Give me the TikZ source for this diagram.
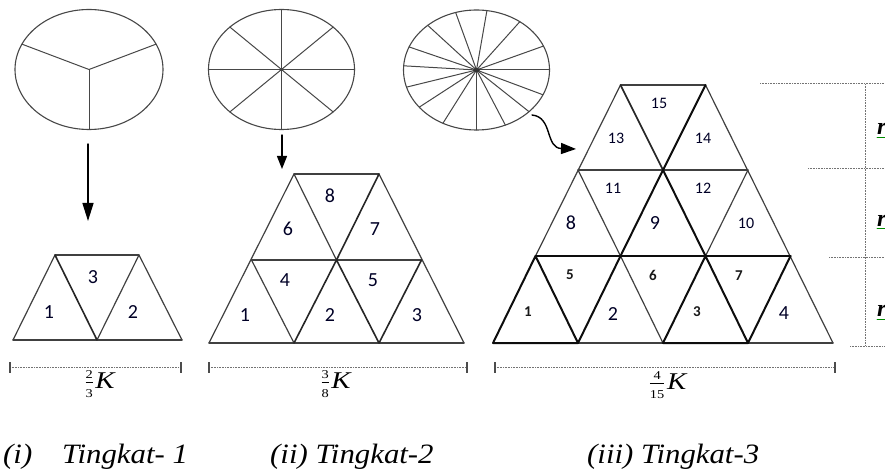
\documentclass[tikz,border=0pt]{standalone}
\usepackage{fontspec}
\setmainfont{Liberation Serif}
\newfontfamily\numfont{Carlito}
\usetikzlibrary{arrows.meta,shapes.geometric}
\begin{document}
\begin{tikzpicture}[x=1pt,y=-1pt,line cap=round,line join=round,
  pie/.style={draw=black!72,line width=1.1pt,ellipse,inner sep=0pt,outer sep=0pt},
  spoke/.style={draw=black!72,line width=1pt},
  tedge/.style={draw=black!75,line width=1.2pt},
  tbold/.style={draw=black!95,line width=2pt},
  tmed/.style={draw=black!85,line width=1.6pt},
  numlab/.style={font=\numfont\fontsize{20}{20}\selectfont,text=black!85!blue,inner sep=0pt},
  snumlab/.style={font=\numfont\fontsize{16}{16}\selectfont,text=black!85!blue,inner sep=0pt},
  bnumlab/.style={font=\numfont\bfseries\fontsize{15}{15}\selectfont,text=black!90,inner sep=0pt},
  dimline/.style={draw=black!55,line width=1pt,dash pattern=on 1pt off 0.6pt,line cap=butt},
  dimtick/.style={draw=black!70,line width=1.1pt,line cap=butt},
  captext/.style={font=\itshape\fontsize{28}{28}\selectfont,anchor=base west,inner sep=0pt},
  fraclab/.style={font=\fontsize{24}{24}\selectfont,inner sep=0pt},
  rlab/.style={font=\bfseries\itshape\fontsize{24}{24}\selectfont,anchor=base west,inner sep=0pt},
  arr/.style={draw=black,line width=1.4pt}]
\useasboundingbox (0,0) rectangle (885,470);

% ---------------- Figure 1 ----------------
\node[pie,minimum width=148pt,minimum height=120pt] (e1) at (89,69.5) {};
\foreach \t in {25,155,270}
  \draw[spoke] (e1.center) -- ++({74*cos(\t)},{-60*sin(\t)});
\coordinate (a1s) at (88,144);
\coordinate (a1e) at (88,221);
\draw[arr,-{Triangle[length=18pt,width=11pt]}] (a1s) -- (a1e);

\coordinate (p1a) at (13,340);
\coordinate (p1b) at (97,340);
\coordinate (p1c) at (182,340);
\coordinate (p1d) at (55,255);
\coordinate (p1e) at (139,255);
\draw[tedge] (p1a) -- (p1c);
\draw[tedge] (p1d) -- (p1e);
\draw[tedge] (p1a) -- (p1d);
\draw[tedge] (p1b) -- (p1e) -- (p1c);
\draw[tmed] (p1d) -- (p1b);
\node[numlab] (n1a) at (49,312) {1};
\node[numlab] (n1c) at (93,277) {3};
\node[numlab] (n1b) at (133,312) {2};

% ---------------- Figure 2 ----------------
\node[pie,minimum width=146pt,minimum height=120pt] (e2) at (281.5,69.5) {};
\foreach \t in {0,45,...,315}
  \draw[spoke] (e2.center) -- ++({73*cos(\t)},{-60*sin(\t)});
\coordinate (a2s) at (282,135);
\coordinate (a2e) at (282,169);
\draw[arr,-{Triangle[length=13pt,width=10pt]}] (a2s) -- (a2e);

\foreach \k in {0,...,3} \coordinate (b\k) at ({209+85*\k},343);
\foreach \k in {0,...,2} \coordinate (m\k) at ({251.5+85*\k},260);
\foreach \k in {0,1} \coordinate (t\k) at ({294+85*\k},174);
\draw[tedge] (b0) -- (b3);
\draw[tedge] (m0) -- (m2);
\draw[tedge] (t0) -- (t1);
\draw[tedge] (b0) -- (t0);
\draw[tedge] (b3) -- (t1);
\draw[tedge] (b1) -- (m0);
\draw[tedge] (m1) -- (t0);
\draw[tmed] (b1) -- (m1) -- (b2) -- (m2);
\draw[tmed] (m1) -- (t1);
\node[numlab] (n2a) at (245,315) {1};
\node[numlab] (n2d) at (285,280) {4};
\node[numlab] (n2b) at (330,315) {2};
\node[numlab] (n2e) at (373,280) {5};
\node[numlab] (n2c) at (417,315) {3};
\node[numlab] (n2f) at (288,229) {6};
\node[numlab] (n2g) at (375,229) {7};
\node[numlab] (n2h) at (330,196) {8};

% ---------------- Figure 3 ----------------
\node[pie,minimum width=146pt,minimum height=120pt] (e3) at (476.5,70) {};
\foreach \t in {106.6,81.8,53.6,23.5,0,-24.4,-44,-66.7,-90,-117.4,-141.7,-163.4,176,157.4,131.9}
  \draw[spoke] (e3.center) -- ++({73*cos(\t)},{-60*sin(\t)});
\fill[black!80] (e3.center) ellipse [x radius=3.5, y radius=2];
\coordinate (a3s) at (532,115);
\coordinate (a3e) at (576,149);
\draw[arr,-{Triangle[length=15pt,width=11pt]}] (a3s) .. controls (553,117) and (545,148) .. (a3e);

\foreach \k in {0,...,4} \coordinate (B\k) at ({493+85*\k},343);
\foreach \k in {0,...,3} \coordinate (R\k) at ({535.5+85*\k},256);
\foreach \k in {0,...,2} \coordinate (S\k) at ({578+85*\k},170);
\foreach \k in {0,1} \coordinate (T\k) at ({620.5+85*\k},85);
\draw[tedge] (B1) -- (B2);
\draw[tedge] (B3) -- (B4);
\draw[tedge] (S0) -- (S2);
\draw[tedge] (T0) -- (T1);
\draw[tedge] (R0) -- (T0);
\draw[tedge] (B4) -- (T1);
\draw[tedge] (B2) -- (R1);
\draw[tedge] (R1) -- (S0);
\draw[tedge] (R2) -- (S2);
\draw[tmed] (S1) -- (T0);
\draw[tbold] (R0) -- (R3);
\draw[tbold] (B0) -- (B1) -- (R0) -- cycle;
\draw[tbold] (B2) -- (B3) -- (R2) -- cycle;
\draw[tbold] (B1) -- (R1);
\draw[tbold] (B3) -- (R3);
\draw[tbold] (R1) -- (S1) -- (R2);
\draw[tbold] (S1) -- (T1);
\node[bnumlab] (n3a) at (528,312) {1};
\node[bnumlab] (n3e) at (570,275) {5};
\node[numlab]  (n3b) at (613,314) {2};
\node[bnumlab] (n3f) at (653,275) {6};
\node[bnumlab] (n3c) at (697,312) {3};
\node[bnumlab] (n3g) at (739,276) {7};
\node[numlab]  (n3d) at (784,313) {4};
\node[numlab]  (n3h) at (571,223) {8};
\node[snumlab] (n3k) at (613,188) {11};
\node[numlab]  (n3i) at (655,223) {9};
\node[snumlab] (n3l) at (703,188) {12};
\node[snumlab] (n3j) at (746,223) {10};
\node[snumlab] (n3m) at (616,138) {13};
\node[snumlab] (n3o) at (659,103) {15};
\node[snumlab] (n3n) at (703,138) {14};

% ---------------- right-hand dimension ----------------
\coordinate (v0) at (865,84);
\coordinate (v3) at (865,346);
\draw[dimline] (v0) -- (v3);
\coordinate (h0a) at (760,84);   \coordinate (h0b) at (885,84);
\coordinate (h1a) at (808,169);  \coordinate (h1b) at (885,169);
\coordinate (h2a) at (829,257);  \coordinate (h2b) at (885,257);
\coordinate (h3a) at (850,346);  \coordinate (h3b) at (885,346);
\draw[dimline] (h0a) -- (h0b);
\draw[dimline] (h1a) -- (h1b);
\draw[dimline] (h2a) -- (h2b);
\draw[dimline] (h3a) -- (h3b);
\foreach \y/\n in {135/ra,226/rb,316/rc}{
  \node[rlab] (\n) at (877,\y) {r};
  \draw[green!55!black,line width=1pt] (877,\y+3) -- (886,\y+3);
}

% ---------------- bottom dimensions ----------------
\foreach \xa/\xb/\n in {10/181/d1,209/467/d2,495/835/d3}{
  \coordinate (\n a) at (\xa,367);
  \coordinate (\n b) at (\xb,367);
  \draw[dimline] (\n a) -- (\n b);
  \draw[dimtick] (\xa,362) -- (\xa,373);
  \draw[dimtick] (\xb,362) -- (\xb,373);
}
\node[fraclab] (f1) at (100,384) {\scalebox{1.2}[1]{$\frac{\mbox{\fontsize{12}{12}\selectfont 2}}{\mbox{\fontsize{12}{12}\selectfont 3}}$\kern1pt\textit{K}}};
\node[fraclab] (f2) at (336,384) {\scalebox{1.2}[1]{$\frac{\mbox{\fontsize{12}{12}\selectfont 3}}{\mbox{\fontsize{12}{12}\selectfont 8}}$\kern1pt\textit{K}}};
\node[fraclab] (f3) at (668,385) {\scalebox{1.2}[1]{$\frac{\mbox{\fontsize{12}{12}\selectfont 4}}{\mbox{\fontsize{12}{12}\selectfont 15}}$\kern1pt\textit{K}}};

% ---------------- captions ----------------
\node[captext] (c1) at (3,463) {\scalebox{1.1}[1]{(i)}};
\node[captext] (c1b) at (62,463) {\scalebox{1.1}[1]{Tingkat- 1}};
\node[captext] (c2) at (270,463) {\scalebox{1.1}[1]{(ii) Tingkat-2}};
\node[captext] (c3) at (587,463) {\scalebox{1.1}[1]{(iii) Tingkat-3}};
\end{tikzpicture}
\end{document}
